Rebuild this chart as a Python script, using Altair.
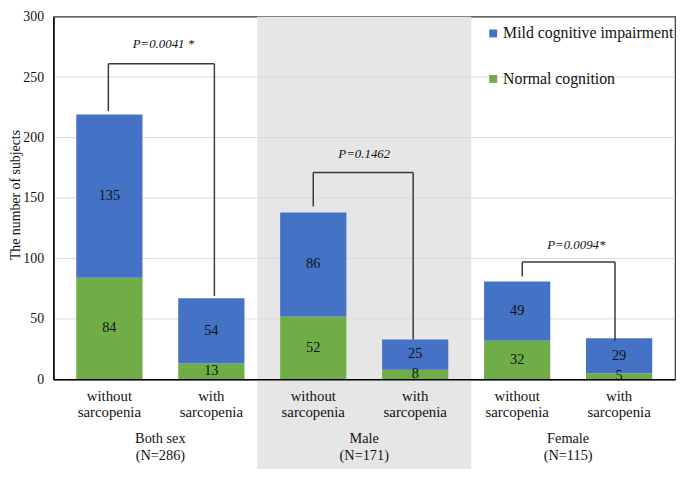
import altair as alt
import pandas as pd

# ---- data ----
positions = [0.5, 1.5, 2.5, 3.5, 4.5, 5.5]
normal = [84, 13, 52, 8, 32, 5]
mci = [135, 54, 86, 25, 49, 29]
sub_line1 = ["without", "with", "without", "with", "without", "with"]
sub_line2 = ["sarcopenia"] * 6
group_names = ["Both sex", "Male", "Female"]
group_n = ["(N=286)", "(N=171)", "(N=115)"]
group_pos = [1.0, 3.0, 5.0]
series = ["Mild cognitive impairment", "Normal cognition"]
colors = ["#4472C4", "#70AD47"]
y_ticks = [0, 50, 100, 150, 200, 250, 300]
grid_vals = [50, 100, 150, 200, 250]

p_labels = ["P=0.0041 *", "P=0.1462", "P=0.0094*"]
p_label_x = [1.03, 3.0, 5.08]
p_label_y = [277, 186, 111]
br_left = [0.49, 2.5, 4.55]
br_right = [1.53, 3.48, 5.46]
br_top = [261, 171, 97]
br_left_bottom = [222, 143, 85]
br_right_bottom = [69, 33, 32]
shade_from = [1.95]
shade_to = [4.05]

FONT = "Liberation Serif, Times New Roman, Tinos, DejaVu Serif, serif"
TXT = "#111111"

# ---- tables ----
rows = []
for p, n, m in zip(positions, normal, mci):
    rows.append({"pos": p, "series": "Normal cognition", "start": 0, "end": n,
                 "val": n, "mid": n / 2})
    rows.append({"pos": p, "series": "Mild cognitive impairment", "start": n,
                 "end": n + m, "val": m, "mid": n + m / 2})
bars_df = pd.DataFrame(rows)
sub_df = pd.DataFrame({"pos": positions, "l1": sub_line1, "l2": sub_line2})
grp_df = pd.DataFrame({"pos": group_pos, "name": group_names, "n": group_n})
br_df = pd.DataFrame({"lx": br_left, "rx": br_right, "top": br_top,
                      "lb": br_left_bottom, "rb": br_right_bottom,
                      "px": p_label_x, "py": p_label_y, "lab": p_labels})
shade_df = pd.DataFrame({"a": shade_from, "b": shade_to})
grid_df = pd.DataFrame({"v": grid_vals})

xs = alt.Scale(domain=[0, 6], nice=False, zero=False)
ys = alt.Scale(domain=[0, 300], nice=False)
xaxis = alt.Axis(labels=False, ticks=False, grid=False, title=None, domain=True,
                 domainColor="#000000", domainWidth=1.5, zindex=1)
yaxis = alt.Axis(values=y_ticks, grid=False, ticks=False, domain=True,
                 domainColor="#000000", domainWidth=1.5, labelPadding=10,
                 labelFont=FONT, labelFontSize=14, labelColor=TXT,
                 title="The number of subjects", titleFont=FONT, titleFontSize=14,
                 titleFontWeight="normal", titleColor=TXT, titleX=-38, titleY=180,
                 titleBaseline="middle", titleAngle=270, zindex=1)


def X(f):
    return alt.X(f, type="quantitative", scale=xs, axis=xaxis)


def Y(f):
    return alt.Y(f, type="quantitative", scale=ys, axis=yaxis)


shade = alt.Chart(shade_df).mark_rect(color="#E6E6E6").encode(
    x=X("a"), x2="b", y=alt.value(0), y2=alt.value(470))

grid = alt.Chart(grid_df).mark_rule(color="#D9D9D9", strokeWidth=1).encode(y=Y("v"))

bars = alt.Chart(bars_df).mark_bar(size=67).encode(
    x=X("pos"), y=Y("start"), y2="end",
    color=alt.Color("series:N", scale=alt.Scale(domain=series, range=colors),
                    legend=alt.Legend(title=None, orient="none", legendX=437, legendY=9,
                                      symbolType="square", symbolSize=64,
                                      symbolStrokeWidth=0, labelFont=FONT,
                                      labelFontSize=16, labelColor=TXT,
                                      labelLimit=400,
                                      rowPadding=30, labelOffset=2, padding=0)))

vals = alt.Chart(bars_df).mark_text(font=FONT, fontSize=14.5, color=TXT,
                                    baseline="middle").encode(
    x=X("pos"), y=Y("mid"), text="val:Q")

leg_l = alt.Chart(br_df).mark_rule(color="#3A3A3A", strokeWidth=1.5).encode(
    x=X("lx"), y=Y("lb"), y2="top")
leg_t = alt.Chart(br_df).mark_rule(color="#3A3A3A", strokeWidth=1.5).encode(
    x=X("lx"), x2="rx", y=Y("top"))
leg_r = alt.Chart(br_df).mark_rule(color="#3A3A3A", strokeWidth=1.5).encode(
    x=X("rx"), y=Y("top"), y2="rb")
plab = alt.Chart(br_df).mark_text(font=FONT, fontSize=13, fontStyle="italic",
                                  color=TXT, baseline="middle").encode(
    x=X("px"), y=Y("py"), text="lab:N")

sub1 = alt.Chart(sub_df).mark_text(font=FONT, fontSize=15, color=TXT,
                                   baseline="middle").encode(
    x=X("pos"), y=alt.value(384), text="l1:N")
sub2 = alt.Chart(sub_df).mark_text(font=FONT, fontSize=15, color=TXT,
                                   baseline="middle").encode(
    x=X("pos"), y=alt.value(400), text="l2:N")
g1 = alt.Chart(grp_df).mark_text(font=FONT, fontSize=14.5, color=TXT,
                                 baseline="middle").encode(
    x=X("pos"), y=alt.value(427), text="name:N")
g2 = alt.Chart(grp_df).mark_text(font=FONT, fontSize=14.5, color=TXT,
                                 baseline="middle").encode(
    x=X("pos"), y=alt.value(445), text="n:N")

chart = alt.layer(shade, grid, bars, vals, leg_l, leg_t, leg_r, plab,
                  sub1, sub2, g1, g2).properties(
    width=629, height=367,
    autosize=alt.AutoSizeParams(type="none"),
    padding={"left": 46, "top": 6, "right": 2, "bottom": 88},
    background="white",
).configure_view(stroke="#333333", strokeWidth=1.2)

chart.save("out.html", embed_options={"renderer": "svg", "actions": False})
